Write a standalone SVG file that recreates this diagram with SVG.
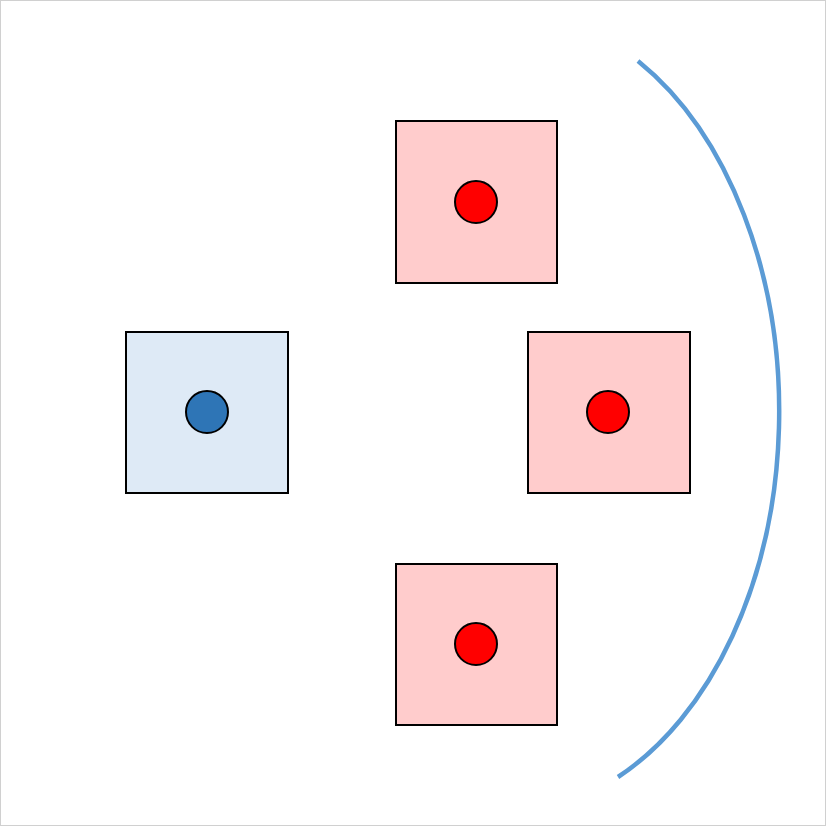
<svg xmlns="http://www.w3.org/2000/svg" width="826" height="826" viewBox="0 0 826 826">
<style>
.box{stroke:#000;stroke-width:2}
.pink{fill:#ffcccc}
.blue{fill:#deeaf6}
.dot{stroke:#000;stroke-width:2}
.red{fill:#ff0000}
.navy{fill:#2e75b6}
.arc{fill:none;stroke:#5b9bd5;stroke-width:4.5}
</style>
<rect x="0.5" y="0.5" width="825" height="825" fill="#fff" stroke="#d0d0d0" stroke-width="1"/>
<g id="connectors">
<path class="arc" d="M638,61 A272,400 0 0 1 618,777"/>
</g>
<g id="node-left">
<rect class="box blue" x="126" y="332" width="162" height="161"/>
<circle class="dot navy" cx="207" cy="412" r="21"/>
</g>
<g id="node-top">
<rect class="box pink" x="396" y="121" width="161" height="162"/>
<circle class="dot red" cx="476" cy="202" r="21"/>
</g>
<g id="node-right">
<rect class="box pink" x="528" y="332" width="162" height="161"/>
<circle class="dot red" cx="608" cy="412" r="21"/>
</g>
<g id="node-bottom">
<rect class="box pink" x="396" y="564" width="161" height="161"/>
<circle class="dot red" cx="476" cy="644" r="21"/>
</g>
</svg>
